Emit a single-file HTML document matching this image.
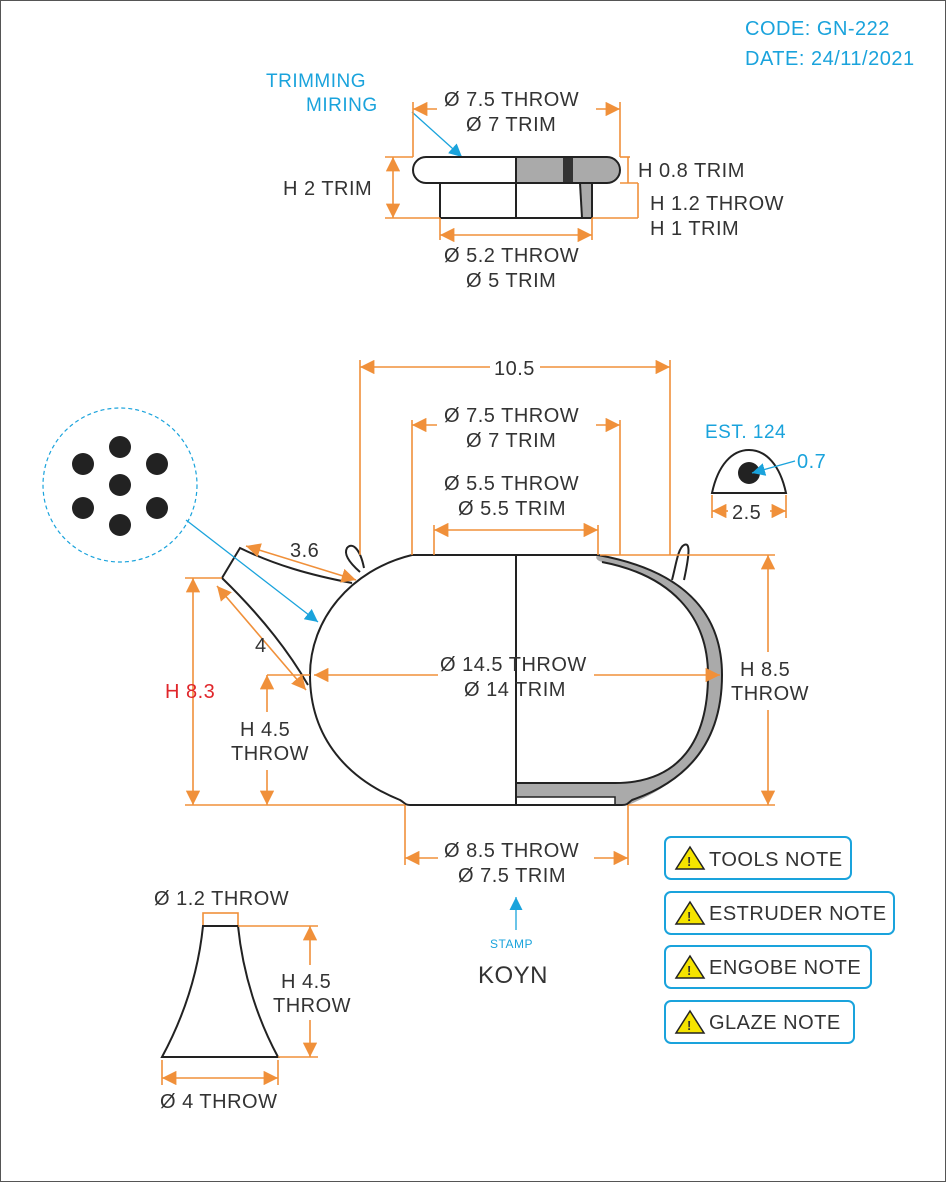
<!DOCTYPE html>
<html><head><meta charset="utf-8"><style>
html,body{margin:0;padding:0;background:#fff}
svg{display:block}
text{font-family:"Liberation Sans",sans-serif;fill:#333;font-size:20px;letter-spacing:0.5px}
.c{fill:#1aa3dc}
.o{stroke:#f0903a;stroke-width:1.6;fill:none}
.k{stroke:#222;stroke-width:2;fill:none}
</style></head><body>
<svg width="946" height="1182" viewBox="0 0 946 1182">
<defs>
<marker id="ar" viewBox="0 0 10 10" refX="10" refY="5" markerWidth="9" markerHeight="9" orient="auto-start-reverse"><path d="M0,0 L10,5 L0,10 z" fill="#f0903a"/></marker>
<marker id="ac" viewBox="0 0 10 10" refX="10" refY="5" markerWidth="10" markerHeight="10" orient="auto"><path d="M0,0 L10,5 L0,10 z" fill="#1aa3dc"/></marker>
</defs>
<rect x="0.5" y="0.5" width="945" height="1181" fill="none" stroke="#555"/>

<text x="745" y="35" class="c">CODE: GN-222</text>
<text x="745" y="65" class="c">DATE: 24/11/2021</text>

<g>
<text x="266" y="87" class="c" style="font-size:19px">TRIMMING</text>
<text x="306" y="111" class="c" style="font-size:19px">MIRING</text>
<line x1="412" y1="112" x2="462" y2="157" stroke="#1aa3dc" stroke-width="1.3" marker-end="url(#ac)"/>
<line x1="462" y1="157" x2="516" y2="157" stroke="#1aa3dc" stroke-width="1.2" stroke-dasharray="4,3"/>
<path d="M516,157 L607,157 A13,13 0 0 1 607,183 L592,183 L592,218 L582,218 L580,183 L516,183 Z" fill="#aaa"/>
<rect x="563" y="157" width="10" height="26" fill="#333"/>
<rect x="413" y="157" width="207" height="26" rx="13" class="k"/>
<rect x="440" y="183" width="152" height="35" class="k"/>
<line x1="516" y1="157" x2="516" y2="218" class="k" stroke-width="1.5"/>
<line x1="580" y1="183" x2="582" y2="218" class="k" stroke-width="1.5"/>
<line x1="413" y1="102" x2="413" y2="157" class="o"/><line x1="620" y1="102" x2="620" y2="157" class="o"/>
<line x1="413" y1="109" x2="437" y2="109" class="o" marker-start="url(#ar)"/><line x1="596" y1="109" x2="620" y2="109" class="o" marker-end="url(#ar)"/>
<text x="444" y="106">Ø 7.5 THROW</text><text x="466" y="131">Ø 7 TRIM</text>
<line x1="385" y1="157" x2="413" y2="157" class="o"/><line x1="385" y1="218" x2="440" y2="218" class="o"/>
<line x1="393" y1="157" x2="393" y2="218" class="o" marker-start="url(#ar)" marker-end="url(#ar)"/>
<text x="283" y="195">H 2 TRIM</text>
<line x1="620" y1="157" x2="630" y2="157" class="o"/><line x1="620" y1="183" x2="638" y2="183" class="o"/>
<line x1="628" y1="157" x2="628" y2="183" class="o"/>
<text x="638" y="177">H 0.8 TRIM</text>
<line x1="592" y1="218" x2="638" y2="218" class="o"/><line x1="638" y1="183" x2="638" y2="218" class="o"/>
<text x="650" y="210">H 1.2 THROW</text><text x="650" y="235">H 1 TRIM</text>
<line x1="440" y1="218" x2="440" y2="240" class="o"/><line x1="592" y1="218" x2="592" y2="240" class="o"/>
<line x1="440" y1="235" x2="592" y2="235" class="o" marker-start="url(#ar)" marker-end="url(#ar)"/>
<text x="444" y="262">Ø 5.2 THROW</text><text x="466" y="287">Ø 5 TRIM</text>
</g>

<g>
<path d="M598,555 C680,570 722,610 722,675 C722,740 690,780 628,805 L516,805 L516,783 L615,783 C680,783 708,740 708,675 C708,615 670,575 602,562 C594,560 596,555 598,555 Z" fill="#aaa"/>
<rect x="516" y="797" width="99" height="8" fill="#fff" stroke="#222" stroke-width="1.5"/>
<path d="M412,555 C350,570 310,620 310,675 C310,740 350,780 400,800 C405,803 405,805 410,805 L622,805 C628,805 628,803 632,800 C690,780 722,740 722,675 C722,610 680,570 598,555 Z" class="k"/>
<path d="M602,562 C670,575 708,615 708,675 C708,740 680,783 615,783 L516,783" class="k"/>
<line x1="516" y1="555" x2="516" y2="805" class="k"/>
<path d="M352,583 C310,575 275,565 240,548 L222,578 C255,610 285,645 308,685" class="k"/>
<path d="M360,572 C352,565 343,555 347,548 C352,542 360,548 364,568" class="k"/>
<path d="M672,580 C676,565 678,548 684,545 C690,542 690,552 684,580" class="k"/>
<circle cx="120" cy="485" r="77" fill="none" stroke="#1aa3dc" stroke-width="1.2" stroke-dasharray="4,3"/>
<g fill="#222"><circle cx="120" cy="447" r="11"/><circle cx="83" cy="464" r="11"/><circle cx="157" cy="464" r="11"/><circle cx="120" cy="485" r="11"/><circle cx="83" cy="508" r="11"/><circle cx="157" cy="508" r="11"/><circle cx="120" cy="525" r="11"/></g>
<line x1="186" y1="520" x2="318" y2="622" stroke="#1aa3dc" stroke-width="1.3" marker-end="url(#ac)"/>
<line x1="360" y1="360" x2="360" y2="555" class="o"/><line x1="670" y1="360" x2="670" y2="555" class="o"/>
<line x1="360" y1="367" x2="490" y2="367" class="o" marker-start="url(#ar)"/><line x1="540" y1="367" x2="670" y2="367" class="o" marker-end="url(#ar)"/>
<text x="494" y="375">10.5</text>
<line x1="412" y1="420" x2="412" y2="555" class="o"/><line x1="620" y1="420" x2="620" y2="555" class="o"/>
<line x1="412" y1="425" x2="437" y2="425" class="o" marker-start="url(#ar)"/><line x1="596" y1="425" x2="620" y2="425" class="o" marker-end="url(#ar)"/>
<text x="444" y="422">Ø 7.5 THROW</text><text x="466" y="447">Ø 7 TRIM</text>
<text x="444" y="490">Ø 5.5 THROW</text><text x="458" y="515">Ø 5.5 TRIM</text>
<line x1="434" y1="525" x2="434" y2="555" class="o"/><line x1="598" y1="525" x2="598" y2="555" class="o"/>
<line x1="434" y1="530" x2="598" y2="530" class="o" marker-start="url(#ar)" marker-end="url(#ar)"/>
<line x1="246" y1="546" x2="356" y2="580" class="o" marker-start="url(#ar)" marker-end="url(#ar)"/>
<text x="290" y="557">3.6</text>
<line x1="217" y1="586" x2="306" y2="690" class="o" marker-start="url(#ar)" marker-end="url(#ar)"/>
<text x="255" y="652">4</text>
<line x1="314" y1="675" x2="438" y2="675" class="o" marker-start="url(#ar)"/><line x1="594" y1="675" x2="720" y2="675" class="o" marker-end="url(#ar)"/>
<text x="440" y="671">Ø 14.5 THROW</text><text x="464" y="696">Ø 14 TRIM</text>
<line x1="185" y1="578" x2="222" y2="578" class="o"/><line x1="185" y1="805" x2="405" y2="805" class="o"/>
<line x1="193" y1="578" x2="193" y2="805" class="o" marker-start="url(#ar)" marker-end="url(#ar)"/>
<text x="165" y="698" style="fill:#e0262b">H 8.3</text>
<line x1="267" y1="675" x2="310" y2="675" class="o"/>
<line x1="267" y1="675" x2="267" y2="712" class="o" marker-start="url(#ar)"/><line x1="267" y1="770" x2="267" y2="805" class="o" marker-end="url(#ar)"/>
<text x="240" y="736">H 4.5</text><text x="231" y="760">THROW</text>
<line x1="600" y1="555" x2="775" y2="555" class="o"/><line x1="628" y1="805" x2="775" y2="805" class="o"/>
<line x1="768" y1="555" x2="768" y2="652" class="o" marker-start="url(#ar)"/><line x1="768" y1="710" x2="768" y2="805" class="o" marker-end="url(#ar)"/>
<text x="740" y="676">H 8.5</text><text x="731" y="700">THROW</text>
<line x1="405" y1="805" x2="405" y2="865" class="o"/><line x1="628" y1="805" x2="628" y2="865" class="o"/>
<line x1="405" y1="858" x2="438" y2="858" class="o" marker-start="url(#ar)"/><line x1="594" y1="858" x2="628" y2="858" class="o" marker-end="url(#ar)"/>
<text x="444" y="857">Ø 8.5 THROW</text><text x="458" y="882">Ø 7.5 TRIM</text>
<line x1="516" y1="930" x2="516" y2="897" stroke="#1aa3dc" stroke-width="1.3" marker-end="url(#ac)"/>
<text x="490" y="948" class="c" style="font-size:12px">STAMP</text>
<text x="478" y="983" style="font-size:24px">KOYN</text>
</g>

<g>
<text x="705" y="438" class="c" style="font-size:19px">EST. 124</text>
<path d="M712,493 C718,465 732,450 749,450 C766,450 780,465 786,493 Z" class="k"/>
<circle cx="749" cy="473" r="11" fill="#222"/>
<line x1="795" y1="461" x2="752" y2="473" stroke="#1aa3dc" stroke-width="1.3" marker-end="url(#ac)"/>
<text x="797" y="468" class="c">0.7</text>
<line x1="712" y1="495" x2="712" y2="518" class="o"/><line x1="786" y1="495" x2="786" y2="518" class="o"/>
<line x1="712" y1="511" x2="728" y2="511" class="o" marker-start="url(#ar)"/><line x1="770" y1="511" x2="786" y2="511" class="o" marker-end="url(#ar)"/>
<text x="732" y="519">2.5</text>
</g>

<g>
<g><rect x="665" y="837" width="186" height="42" rx="6" fill="#fff" stroke="#1aa3dc" stroke-width="2"/><path d="M690,847 L704,869 L676,869 Z" fill="#f5e400" stroke="#222" stroke-width="1.5"/><text x="687" y="866" style="font-size:13px;font-weight:bold">!</text><text x="709" y="866">TOOLS NOTE</text></g>
<g><rect x="665" y="892" width="229" height="42" rx="6" fill="#fff" stroke="#1aa3dc" stroke-width="2"/><path d="M690,902 L704,924 L676,924 Z" fill="#f5e400" stroke="#222" stroke-width="1.5"/><text x="687" y="921" style="font-size:13px;font-weight:bold">!</text><text x="709" y="920">ESTRUDER NOTE</text></g>
<g><rect x="665" y="946" width="206" height="42" rx="6" fill="#fff" stroke="#1aa3dc" stroke-width="2"/><path d="M690,956 L704,978 L676,978 Z" fill="#f5e400" stroke="#222" stroke-width="1.5"/><text x="687" y="975" style="font-size:13px;font-weight:bold">!</text><text x="709" y="974">ENGOBE NOTE</text></g>
<g><rect x="665" y="1001" width="189" height="42" rx="6" fill="#fff" stroke="#1aa3dc" stroke-width="2"/><path d="M690,1011 L704,1033 L676,1033 Z" fill="#f5e400" stroke="#222" stroke-width="1.5"/><text x="687" y="1030" style="font-size:13px;font-weight:bold">!</text><text x="709" y="1029">GLAZE NOTE</text></g>
</g>

<g>
<text x="154" y="905">Ø 1.2 THROW</text>
<rect x="203" y="913" width="35" height="13" class="o"/>
<path d="M203,926 L238,926 C243,975 258,1020 278,1057 L162,1057 C182,1020 198,975 203,926 Z" class="k"/>
<line x1="238" y1="926" x2="318" y2="926" class="o"/><line x1="278" y1="1057" x2="318" y2="1057" class="o"/>
<line x1="310" y1="926" x2="310" y2="965" class="o" marker-start="url(#ar)"/><line x1="310" y1="1020" x2="310" y2="1057" class="o" marker-end="url(#ar)"/>
<text x="281" y="988">H 4.5</text><text x="273" y="1012">THROW</text>
<line x1="162" y1="1060" x2="162" y2="1085" class="o"/><line x1="278" y1="1060" x2="278" y2="1085" class="o"/>
<line x1="162" y1="1078" x2="278" y2="1078" class="o" marker-start="url(#ar)" marker-end="url(#ar)"/>
<text x="160" y="1108">Ø 4 THROW</text>
</g>
</svg>
</body></html>
